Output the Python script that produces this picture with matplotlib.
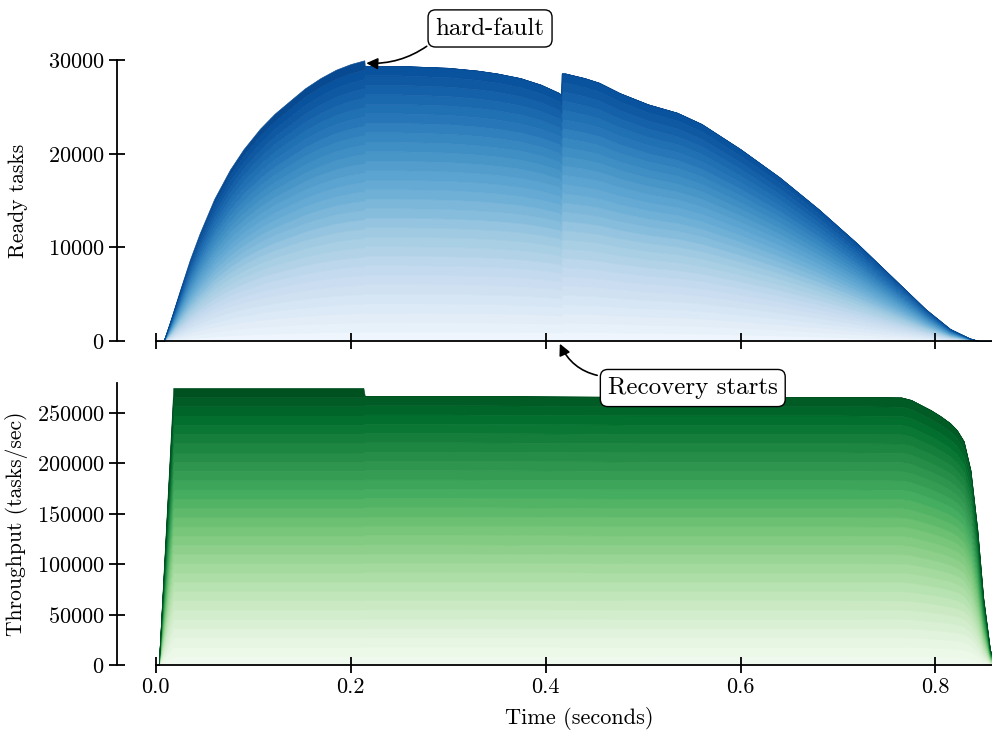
import numpy as np
import matplotlib
matplotlib.use("Agg")
import matplotlib.pyplot as plt

plt.rcParams['font.family'] = ['cmr10', 'DejaVu Serif']
plt.rcParams['axes.formatter.use_mathtext'] = True
plt.rcParams['mathtext.fontset'] = 'cm'

# ---------------- data ----------------
# Ready tasks (total of all workers) over time
t_ready = [0.000, 0.008, 0.015, 0.025, 0.035, 0.045, 0.060, 0.076, 0.090, 0.107,
           0.122, 0.138, 0.153, 0.169, 0.185, 0.200, 0.214, 0.2145, 0.230, 0.250,
           0.275, 0.300, 0.330, 0.350, 0.374, 0.395, 0.414, 0.416, 0.4165, 0.420,
           0.440, 0.455, 0.476, 0.505, 0.535, 0.560, 0.600, 0.640, 0.680, 0.720,
           0.760, 0.790, 0.815, 0.835, 0.845, 0.858]
ready_total = [0, 0, 2200, 5500, 8700, 11500, 15200, 18300, 20500, 22700,
               24300, 25700, 27000, 28100, 29000, 29600, 30000, 29400, 29400, 29400,
               29300, 29200, 28900, 28600, 28100, 27400, 26500, 26200, 28600, 28600,
               28100, 27600, 26500, 25300, 24400, 23200, 20500, 17500, 14100, 10400,
               6400, 3400, 1300, 300, 0, 0]
# 1 while the faulty worker is alive, 0 after the hard-fault
ready_alive = [1] * 17 + [0] * 29

# Throughput (total of all workers) over time
t_tp = [0.000, 0.003, 0.018, 0.100, 0.213, 0.2145, 0.300, 0.400, 0.500, 0.600,
        0.700, 0.765, 0.775, 0.785, 0.795, 0.805, 0.815, 0.822, 0.829, 0.836,
        0.843, 0.849, 0.856, 0.862]
tp_total = [0, 0, 275000, 275000, 275000, 267000, 267000, 266500, 266000, 266000,
            266000, 265500, 263000, 258000, 253000, 247000, 240000, 233000, 222000, 193000,
            134000, 67000, 15000, 0]
tp_alive = [1] * 5 + [0] * 19

# relative share of each worker (bottom -> top); the last one is the faulty worker
worker_share = [1.00, 1.00, 1.00, 1.00, 1.00, 1.00, 1.00, 1.00,
                1.00, 1.00, 1.00, 1.00, 1.00, 1.00, 1.00, 1.00,
                1.00, 1.00, 1.00, 1.00, 1.00, 1.00, 1.00, 1.00,
                1.00, 1.00, 1.00, 1.00, 1.00, 1.00]

x_ticks = [0.0, 0.2, 0.4, 0.6, 0.8]
ready_ticks = [0, 10000, 20000, 30000]
tp_ticks = [0, 50000, 100000, 150000, 200000, 250000]


def layers(total, alive):
    total = np.asarray(total, float)
    alive = np.asarray(alive, float)
    share = np.asarray(worker_share, float)
    out = np.zeros((len(share), len(total)))
    for j in range(len(total)):
        s = share.copy()
        s[-1] *= alive[j]
        out[:, j] = total[j] * s / s.sum()
    return out


n = len(worker_share)
blues = plt.cm.Blues(np.linspace(0.05, 0.9, n))
greens = plt.cm.Greens(np.linspace(0.05, 0.96, n))

fig = plt.figure(figsize=(9.92, 7.35), dpi=100)
ax1 = fig.add_axes([0.157, 0.536, 0.843, 0.382])
ax2 = fig.add_axes([0.157, 0.0952, 0.843, 0.384])

for ax, tt, tot, alv, cols in ((ax1, t_ready, ready_total, ready_alive, blues),
                               (ax2, t_tp, tp_total, tp_alive, greens)):
    polys = ax.stackplot(tt, layers(tot, alv), colors=cols)
    for p, c in zip(polys, cols):
        p.set_edgecolor(c)
        p.set_linewidth(0.4)

FS = 16
for ax in (ax1, ax2):
    ax.set_xlim(0, 0.858)
    ax.spines['top'].set_visible(False)
    ax.spines['right'].set_visible(False)
    ax.spines['left'].set_position(('outward', 28))
    for s in ('left', 'bottom'):
        ax.spines[s].set_linewidth(1.3)
        ax.spines[s].set_zorder(5)
    ax.set_xticks(x_ticks)
    ax.tick_params(direction='inout', length=12, width=1.3, labelsize=FS, pad=3)

ax1.set_ylim(0, 30000)
ax1.set_yticks(ready_ticks)
ax1.set_xticklabels([])
ax1.set_ylabel('Ready tasks', fontsize=15.5)
ax1.yaxis.set_label_coords(-0.153, 0.5)

ax2.set_ylim(0, 280000)
ax2.set_yticks(tp_ticks)
ax2.set_xticklabels(['0.0', '0.2', '0.4', '0.6', '0.8'])
ax2.set_ylabel('Throughput (tasks/sec)', fontsize=15.5)
ax2.yaxis.set_label_coords(-0.153, 0.5)
ax2.set_xlabel('Time (seconds)', fontsize=16)
ax2.xaxis.set_label_coords(0.506, -0.15)

bbox = dict(boxstyle='round,pad=0.3', fc='white', ec='black', lw=1.0)
AFS = 18
ax1.annotate('hard-fault', xy=(0.2146, 29700), xytext=(0.343, 33400),
             fontsize=AFS, ha='center', va='center', bbox=bbox, annotation_clip=False,
             arrowprops=dict(arrowstyle='-|>', connectionstyle='arc3,rad=-0.2',
                             relpos=(0.0, 0.0), color='black', lw=1.2,
                             shrinkA=2, shrinkB=1, mutation_scale=17))
ax2.annotate('Recovery starts', xy=(0.414, 320000), xytext=(0.551, 274800),
             fontsize=AFS, ha='center', va='center', bbox=bbox, annotation_clip=False,
             arrowprops=dict(arrowstyle='-|>', connectionstyle='arc3,rad=-0.3',
                             relpos=(0.0, 1.0), color='black', lw=1.2,
                             shrinkA=2, shrinkB=1, mutation_scale=17))

fig.savefig('out.png', dpi=100)
